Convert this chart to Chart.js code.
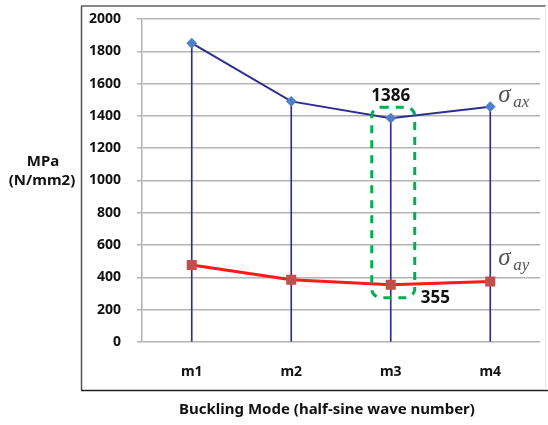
<!DOCTYPE html>
<html>
<head>
<meta charset="utf-8">
<script src="https://cdn.jsdelivr.net/npm/chart.js@4"></script>
<style>
  body { margin: 0; background: #fff; }
  #wrap { width: 548px; height: 425px; }
</style>
</head>
<body>
<div id="wrap"><canvas id="lineChart" width="548" height="425"></canvas></div>
<script>
var modes = ["m1", "m2", "m3", "m4"];
var sigmaAx = [1850, 1490, 1386, 1457];
var sigmaAy = [477, 386, 355, 375];
var yTicks = [0, 200, 400, 600, 800, 1000, 1200, 1400, 1600, 1800, 2000];

var FONT = "'Noto Sans', sans-serif";

// frame, axis titles, highlight box and series labels
var extras = {
    id: 'extras',
    afterDraw: function (chart) {
        var c = chart.ctx;
        var x = chart.scales.x, y = chart.scales.y;
        c.save();

        // outer frame
        c.lineWidth = 2;
        c.strokeStyle = '#888';
        c.beginPath(); c.moveTo(81, 6); c.lineTo(546, 6); c.stroke();
        c.lineWidth = 1.5;
        c.strokeStyle = '#555';
        c.beginPath(); c.moveTo(81.5, 6); c.lineTo(81.5, 390); c.stroke();
        c.strokeStyle = '#222';
        c.beginPath(); c.moveTo(81, 390.5); c.lineTo(548, 390.5); c.stroke();
        c.lineWidth = 1;
        c.strokeStyle = '#e6e6e6';
        c.beginPath(); c.moveTo(545.5, 6); c.lineTo(545.5, 390); c.stroke();

        // y title (horizontal)
        c.fillStyle = '#111';
        c.font = "bold 15px " + FONT;
        c.textAlign = 'center';
        c.textBaseline = 'middle';
        c.fillText("MPa", 43, 162);
        c.fillText("(N/mm2)", 42, 181);

        // x title
        c.fillText("Buckling Mode (half-sine wave number)", 327, 410);

        // dashed highlight around m3
        var cx = x.getPixelForValue(2);
        var top = y.getPixelForValue(sigmaAx[2]) - 11;
        var bot = y.getPixelForValue(sigmaAy[2]) + 13;
        c.strokeStyle = '#00b050';
        c.lineWidth = 3;
        c.setLineDash([8, 7]);
        c.beginPath();
        c.roundRect(cx - 19, top, 43, bot - top, 9);
        c.stroke();
        c.setLineDash([]);

        // value labels
        c.fillStyle = '#111';
        c.font = "bold 17px " + FONT;
        c.fillText(String(sigmaAx[2]), cx, top - 11);
        c.textAlign = 'left';
        c.fillText(String(sigmaAy[2]), cx + 30, bot);

        // series labels
        var lx = x.getPixelForValue(3) + 8;
        function sigma(sub, yy) {
            c.fillStyle = '#555';
            c.textAlign = 'left';
            c.textBaseline = 'alphabetic';
            c.font = "italic 25px 'Liberation Serif', serif";
            c.fillText("\u03c3", lx, yy);
            c.font = "italic 17px 'Liberation Serif', serif";
            c.fillText(sub, lx + 15, yy + 5);
        }
        sigma("ax", 102);
        sigma("ay", 265);

        c.restore();
    }
};

var ctx = document.getElementById("lineChart");

var myChart = new Chart(ctx, {
    data: {
        labels: modes,
        datasets: [{
            type: 'line',
            label: "sigma_ax",
            data: sigmaAx,
            borderColor: '#2e2e92',
            borderWidth: 2,
            pointStyle: 'rectRot',
            pointRadius: 4,
            pointBackgroundColor: '#4f7fc8',
            pointBorderColor: '#4f7fc8',
            tension: 0,
            order: 1
        }, {
            type: 'line',
            label: "sigma_ay",
            data: sigmaAy,
            borderColor: '#ff1a1a',
            borderWidth: 3,
            pointStyle: 'rect',
            pointRadius: 5,
            pointBackgroundColor: '#c0504d',
            pointBorderColor: '#c0504d',
            tension: 0,
            order: 0
        }, {
            type: 'bar',
            label: "drop",
            data: sigmaAx,
            backgroundColor: '#2e2e92',
            barThickness: 1,
            order: 2
        }]
    },
    options: {
        responsive: false,
        animation: false,
        layout: { padding: { top: 19, right: 2, left: 0, bottom: 0 } },
        plugins: {
            legend: { display: false },
            tooltip: { enabled: false }
        },
        scales: {
            x: {
                offset: true,
                grid: { display: false, drawTicks: false },
                border: { display: false },
                ticks: {
                    color: '#111',
                    font: { family: FONT, size: 14, weight: 'bold' },
                    padding: 22
                },
                afterFit: function (s) {
                    s.height = 83;
                    s.paddingLeft = 0;
                    s.paddingRight = 0;
                }
            },
            y: {
                min: 0,
                max: 2000,
                afterBuildTicks: function (s) {
                    s.ticks = yTicks.map(function (v) { return { value: v }; });
                },
                grid: { color: '#b3b3b3', lineWidth: 1.5, tickLength: 5 },
                border: { color: '#b3b3b3', width: 1.5 },
                ticks: {
                    color: '#111',
                    font: { family: FONT, size: 14, weight: 'bold' },
                    padding: 16,
                    callback: function (v) { return String(v); }
                },
                afterFit: function (s) {
                    s.width = 142;
                    s.paddingTop = 0;
                    s.paddingBottom = 0;
                }
            }
        }
    },
    plugins: [extras]
});
</script>
</body>
</html>
